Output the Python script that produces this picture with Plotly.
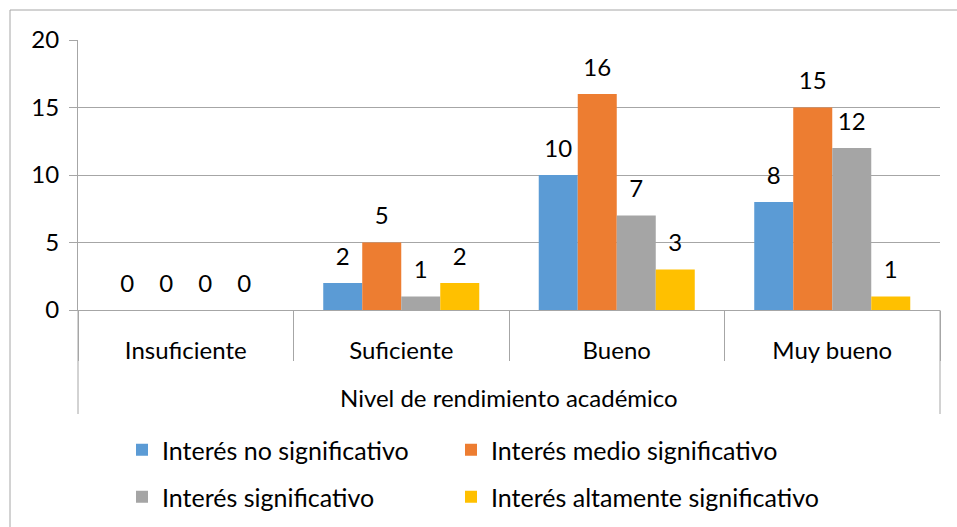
import plotly.graph_objects as go

# Datos del gráfico
niveles = ["Insuficiente", "Suficiente", "Bueno", "Muy bueno"]
titulo_eje = "Nivel de rendimiento académico"
series = [
    "Interés no significativo",
    "Interés medio significativo",
    "Interés significativo",
    "Interés altamente significativo",
]
no_significativo = [0, 2, 10, 8]
medio_significativo = [0, 5, 16, 15]
significativo = [0, 1, 7, 12]
altamente_significativo = [0, 2, 3, 1]

valores = [no_significativo, medio_significativo, significativo, altamente_significativo]
colores = ["#5B9BD5", "#ED7D31", "#A5A5A5", "#FFC000"]
leyendas = ["legend", "legend2", "legend3", "legend4"]

FONT = "Lato"
FS = 24
GRIS = "#A6A6A6"
W, H = 957, 527
M = {"l": 78, "r": 17, "t": 40, "b": 217, "autoexpand": False}
PW = W - M["l"] - M["r"]
PH = H - M["t"] - M["b"]


def px_x(px):
    return (px - M["l"]) / PW


def px_y(py):
    return (H - M["b"] - py) / PH


fig = go.Figure()
for i, (name, vals, color) in enumerate(zip(series, valores, colores)):
    fig.add_trace(
        go.Bar(
            name=name,
            x=niveles,
            y=vals,
            marker={"color": color, "line": {"width": 0}},
            offsetgroup=str(i),
            legend=leyendas[i],
            hoverinfo="skip",
        )
    )
# etiquetas de datos, separadas del borde de la barra
for i, vals in enumerate(valores):
    fig.add_trace(
        go.Scatter(
            x=niveles,
            y=vals,
            mode="markers+text",
            text=[str(v) for v in vals],
            textposition="top center",
            textfont={"family": FONT, "size": FS, "color": "#000000"},
            marker={"size": 18, "opacity": 0},
            offsetgroup=str(i),
            showlegend=False,
            cliponaxis=False,
            hoverinfo="skip",
        )
    )

# marco exterior del gráfico
fig.add_shape(
    type="rect", xref="paper", yref="paper",
    x0=px_x(10), x1=px_x(975), y0=px_y(545), y1=px_y(10),
    line={"color": GRIS, "width": 1}, layer="below",
)
# divisores del nivel exterior de categorías
for xp in (0, 1):
    fig.add_shape(
        type="line", xref="paper", yref="paper",
        x0=xp, x1=xp, y0=0, y1=px_y(414),
        line={"color": GRIS, "width": 1},
    )
fig.add_annotation(
    text=titulo_eje, xref="paper", yref="paper",
    x=0.5, y=px_y(397), showarrow=False,
    font={"family": FONT, "size": FS, "color": "#000000"},
    yanchor="middle",
)


def leyenda(x_px, y_px):
    return {
        "orientation": "h",
        "x": px_x(x_px),
        "y": px_y(y_px),
        "xanchor": "left",
        "yanchor": "middle",
        "font": {"family": FONT, "size": 25},
        "bgcolor": "rgba(0,0,0,0)",
    }


fig.update_layout(
    width=W,
    height=H,
    margin=M,
    paper_bgcolor="white",
    plot_bgcolor="white",
    barmode="group",
    bargap=0.276,
    bargroupgap=0,
    scattermode="group",
    scattergap=0.276,
    font={"family": FONT, "size": FS, "color": "#000000"},
    showlegend=True,
    legend=leyenda(122, 450),
    legend2=leyenda(451, 450),
    legend3=leyenda(122, 497),
    legend4=leyenda(451, 497),
)

fig.update_xaxes(
    showline=True,
    linecolor=GRIS,
    linewidth=1,
    ticks="outside",
    tickson="boundaries",
    ticklen=50,
    tickcolor=GRIS,
    tickfont={"family": FONT, "size": FS},
    ticklabelstandoff=19,
    showgrid=False,
)
fig.update_yaxes(
    range=[0, 20],
    dtick=5,
    showgrid=True,
    gridcolor=GRIS,
    gridwidth=1,
    showline=True,
    linecolor=GRIS,
    ticks="outside",
    ticklen=8,
    tickcolor=GRIS,
    tickfont={"family": FONT, "size": FS},
    ticklabelstandoff=5,
    zeroline=False,
)

fig.write_html(
    "out.html",
    config={"displayModeBar": False},
    post_script="document.body.style.margin='0';",
)
